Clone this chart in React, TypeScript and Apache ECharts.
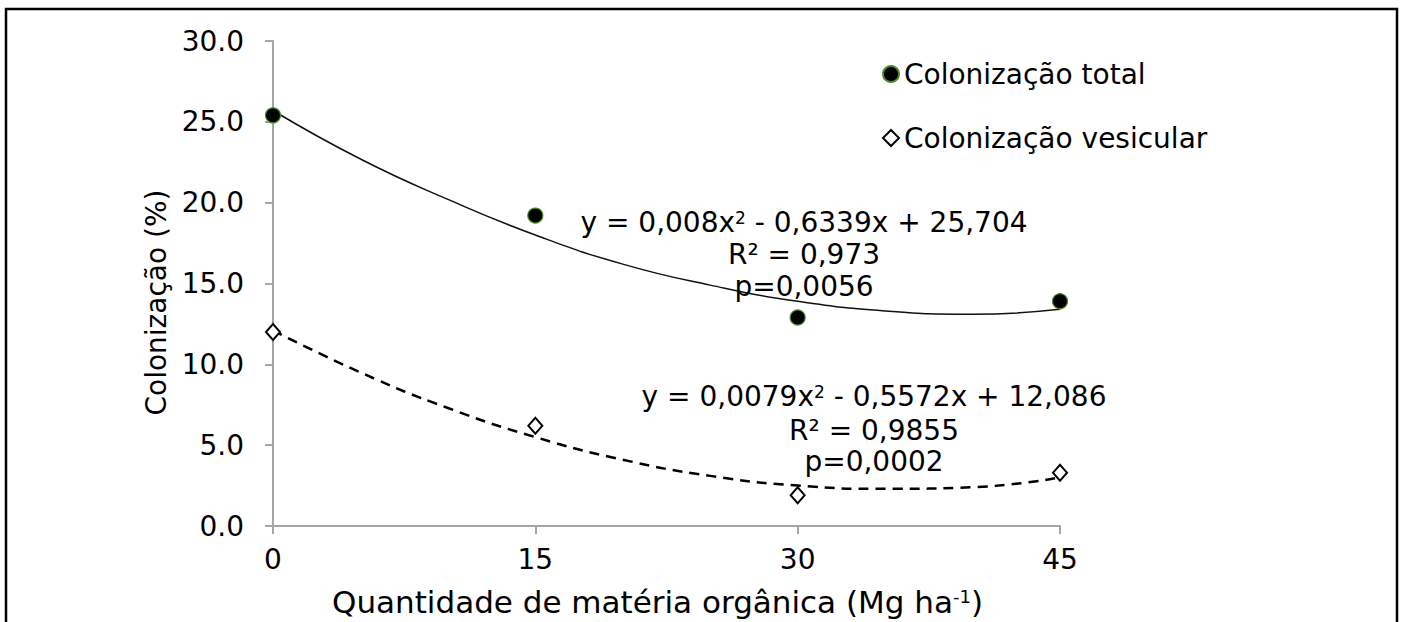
import React, { useEffect, useRef } from "react";
import * as echarts from "echarts";

const FONT = "DejaVu Sans";

// Observed data points (x = Mg ha-1 of organic matter)
const xValues = [0, 15, 30, 45];
const totalValues = [25.4, 19.2, 12.9, 13.9];
const vesicularValues = [12.0, 6.2, 1.9, 3.3];

// Trend curves
const trendX = [0, 5, 10, 15, 20, 25, 30, 35, 40, 45];
const totalTrend = [25.7, 22.7, 20.2, 18.0, 16.2, 14.9, 13.9, 13.3, 13.1, 13.4];
const vesicularTrend = [12.1, 9.5, 7.3, 5.5, 4.1, 3.1, 2.5, 2.3, 2.4, 3.0];

const legendNames = ["Colonização total", "Colonização vesicular"];
const xTicks = [0, 15, 30, 45];
const eq1 = ["y = 0,008x", "2", " - 0,6339x + 25,704", "R² = 0,973", "p=0,0056"];
const eq2 = ["y = 0,0079x", "2", " - 0,5572x + 12,086", "R² = 0,9855", "p=0,0002"];

const richBase = {
  n: { fontSize: 28, fontFamily: FONT, color: "#000", verticalAlign: "bottom" },
  s: { fontSize: 17, fontFamily: FONT, color: "#000", verticalAlign: "bottom", padding: [0, 0, 10, 0] },
};
const richName = {
  n: { fontSize: 31, fontFamily: FONT, color: "#000", verticalAlign: "bottom" },
  s: { fontSize: 18, fontFamily: FONT, color: "#000", verticalAlign: "bottom", padding: [0, 0, 12, 0] },
};

function eqText(eq: string[], cx: number, ys: number[]) {
  return [
    {
      type: "text",
      x: cx,
      y: ys[0],
      style: {
        text: `{n|${eq[0]}}{s|${eq[1]}}{n|${eq[2]}}`,
        rich: richBase,
        align: "center",
        verticalAlign: "middle",
      },
    },
    {
      type: "text",
      x: cx,
      y: ys[1],
      style: { text: eq[3], font: `28px "${FONT}"`, fill: "#000", align: "center", verticalAlign: "middle" },
    },
    {
      type: "text",
      x: cx,
      y: ys[2],
      style: { text: eq[4], font: `28px "${FONT}"`, fill: "#000", align: "center", verticalAlign: "middle" },
    },
  ];
}

export default function App() {
  const ref = useRef<HTMLDivElement>(null);
  useEffect(() => {
    const chart = echarts.init(ref.current!, null, { renderer: "svg" });
    const axisLine = { show: true, lineStyle: { color: "#a6a6a6", width: 2 } };
    const option: any = {
      animation: false,
      backgroundColor: "#fff",
      grid: { left: 273, top: 41, width: 787, height: 485, containLabel: false },
      legend: {
        data: legendNames,
        orient: "vertical",
        left: 877,
        top: 55,
        itemWidth: 16,
        itemHeight: 16,
        itemGap: 36,
        textStyle: { fontSize: 28, fontFamily: FONT, color: "#000" },
      },
      xAxis: {
        type: "value",
        min: 0,
        max: 45,
        interval: 15,
        axisLine,
        axisTick: { show: true, length: 8, lineStyle: { color: "#a6a6a6", width: 2 } },
        splitLine: { show: false },
        axisLabel: {
          fontSize: 28,
          fontFamily: FONT,
          color: "#000",
          margin: 19,
          customValues: xTicks,
        },
        name: "{n|Quantidade de matéria orgânica (Mg ha}{s|-1}{n|)}",
        nameLocation: "middle",
        nameGap: 60,
        nameTextStyle: { rich: richName, padding: [0, 18, 0, 0] },
      },
      yAxis: {
        type: "value",
        min: 0,
        max: 30,
        interval: 5,
        axisLine,
        axisTick: { show: true, length: 8, lineStyle: { color: "#a6a6a6", width: 2 } },
        splitLine: { show: false },
        axisLabel: {
          fontSize: 28,
          fontFamily: FONT,
          color: "#000",
          margin: 29,
          formatter: (v: number) => v.toFixed(1),
        },
        name: "Colonização (%)",
        nameLocation: "middle",
        nameGap: 96,
        nameTextStyle: { fontSize: 28, fontFamily: FONT, color: "#000", padding: [0, 38, 0, 0] },
      },
      series: [
        {
          name: "trendTotal",
          type: "line",
          data: trendX.map((x, i) => [x, totalTrend[i]]),
          smooth: true,
          showSymbol: false,
          symbol: "none",
          lineStyle: { color: "#111", width: 1.5 },
          z: 2,
        },
        {
          name: "trendVesicular",
          type: "line",
          data: trendX.map((x, i) => [x, vesicularTrend[i]]),
          smooth: true,
          showSymbol: false,
          symbol: "none",
          lineStyle: { color: "#000", width: 2.5, type: [10, 7] },
          z: 2,
        },
        {
          name: legendNames[0],
          type: "scatter",
          data: xValues.map((x, i) => [x, totalValues[i]]),
          symbol: "circle",
          symbolSize: 15,
          itemStyle: { color: "#000", borderColor: "#4e8a2c", borderWidth: 1.2, opacity: 1 },
          z: 5,
        },
        {
          name: legendNames[1],
          type: "scatter",
          data: xValues.map((x, i) => [x, vesicularValues[i]]),
          symbol: "diamond",
          symbolSize: [14, 16],
          itemStyle: { color: "#fff", borderColor: "#000", borderWidth: 2, opacity: 1 },
          z: 5,
        },
      ],
      graphic: [
        {
          type: "rect",
          shape: { x: 6, y: 9, width: 1391, height: 700 },
          style: { fill: "none", stroke: "#000", lineWidth: 2.5 },
          silent: true,
        },
        ...eqText(eq1, 804, [222, 254, 286]),
        ...eqText(eq2, 874, [396, 430, 461]),
      ],
    };
    chart.setOption(option);
    return () => chart.dispose();
  }, []);
  return (
    <div
      ref={ref}
      style={{ position: "fixed", left: 0, top: 0, width: 1403, height: 622, background: "#fff" }}
    />
  );
}
